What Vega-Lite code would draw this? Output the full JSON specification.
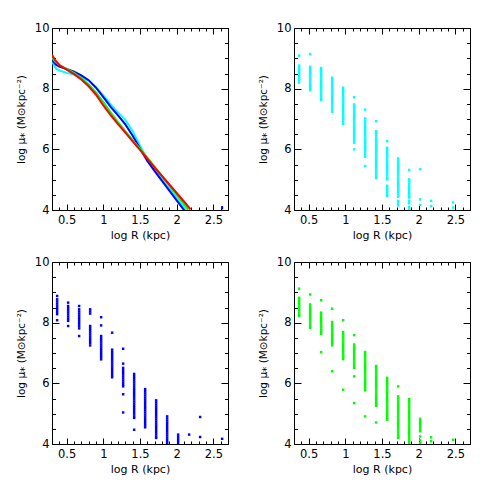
{
"$schema": "https://vega.github.io/schema/vega-lite/v6.json",
"padding": {"left": 15, "top": 21, "right": 0, "bottom": 0},
"background": "white",
"config": {
  "view": {"stroke": "black", "strokeWidth": 1},
  "font": "DejaVu Sans",
  "axis": {"grid": false, "domain": false, "tickColor": "black", "labelColor": "black", "titleColor": "black", "labelFont": "DejaVu Sans", "titleFont": "DejaVu Sans", "labelFontSize": 11.5, "titleFontSize": 11, "titleFontWeight": "normal", "tickWidth": 1, "labelFlush": false, "labelOverlap": false}
},
"datasets": {
  "lines": [
    {"s":"cyan","x":0.30,"y":8.92},{"s":"cyan","x":0.33,"y":8.75},{"s":"cyan","x":0.36,"y":8.65},{"s":"cyan","x":0.40,"y":8.60},{"s":"cyan","x":0.50,"y":8.52},{"s":"cyan","x":0.60,"y":8.47},{"s":"cyan","x":0.70,"y":8.40},{"s":"cyan","x":0.80,"y":8.26},{"s":"cyan","x":0.90,"y":8.05},{"s":"cyan","x":1.00,"y":7.78},{"s":"cyan","x":1.10,"y":7.48},{"s":"cyan","x":1.20,"y":7.22},{"s":"cyan","x":1.30,"y":6.97},{"s":"cyan","x":1.40,"y":6.60},{"s":"cyan","x":1.50,"y":6.12},{"s":"cyan","x":1.60,"y":5.66},{"s":"cyan","x":1.70,"y":5.33},{"s":"cyan","x":1.80,"y":5.02},{"s":"cyan","x":1.90,"y":4.71},{"s":"cyan","x":2.00,"y":4.40},{"s":"cyan","x":2.13,"y":4.00},
    {"s":"blue","x":0.30,"y":8.95},{"s":"blue","x":0.35,"y":8.80},{"s":"blue","x":0.40,"y":8.73},{"s":"blue","x":0.50,"y":8.65},{"s":"blue","x":0.60,"y":8.56},{"s":"blue","x":0.70,"y":8.44},{"s":"blue","x":0.80,"y":8.28},{"s":"blue","x":0.90,"y":8.03},{"s":"blue","x":1.00,"y":7.72},{"s":"blue","x":1.10,"y":7.40},{"s":"blue","x":1.20,"y":7.12},{"s":"blue","x":1.30,"y":6.82},{"s":"blue","x":1.40,"y":6.45},{"s":"blue","x":1.50,"y":6.03},{"s":"blue","x":1.60,"y":5.62},{"s":"blue","x":1.70,"y":5.28},{"s":"blue","x":1.80,"y":4.96},{"s":"blue","x":1.90,"y":4.64},{"s":"blue","x":2.00,"y":4.32},{"s":"blue","x":2.10,"y":4.00},
    {"s":"green","x":0.30,"y":9.02},{"s":"green","x":0.35,"y":8.88},{"s":"green","x":0.40,"y":8.78},{"s":"green","x":0.50,"y":8.65},{"s":"green","x":0.60,"y":8.52},{"s":"green","x":0.70,"y":8.35},{"s":"green","x":0.80,"y":8.14},{"s":"green","x":0.90,"y":7.88},{"s":"green","x":1.00,"y":7.56},{"s":"green","x":1.10,"y":7.22},{"s":"green","x":1.20,"y":6.90},{"s":"green","x":1.30,"y":6.60},{"s":"green","x":1.40,"y":6.30},{"s":"green","x":1.50,"y":6.02},{"s":"green","x":1.60,"y":5.73},{"s":"green","x":1.70,"y":5.43},{"s":"green","x":1.80,"y":5.12},{"s":"green","x":1.90,"y":4.81},{"s":"green","x":2.00,"y":4.50},{"s":"green","x":2.10,"y":4.19},{"s":"green","x":2.16,"y":4.01},
    {"s":"red","x":0.30,"y":9.12},{"s":"red","x":0.35,"y":8.92},{"s":"red","x":0.40,"y":8.78},{"s":"red","x":0.45,"y":8.70},{"s":"red","x":0.50,"y":8.63},{"s":"red","x":0.60,"y":8.48},{"s":"red","x":0.70,"y":8.30},{"s":"red","x":0.80,"y":8.08},{"s":"red","x":0.90,"y":7.80},{"s":"red","x":1.00,"y":7.45},{"s":"red","x":1.10,"y":7.13},{"s":"red","x":1.20,"y":6.83},{"s":"red","x":1.30,"y":6.55},{"s":"red","x":1.40,"y":6.26},{"s":"red","x":1.50,"y":5.98},{"s":"red","x":1.60,"y":5.69},{"s":"red","x":1.70,"y":5.40},{"s":"red","x":1.80,"y":5.12},{"s":"red","x":1.90,"y":4.84},{"s":"red","x":2.00,"y":4.56},{"s":"red","x":2.10,"y":4.28},{"s":"red","x":2.19,"y":4.02},
    {"s":"blue2","x":2.62,"y":4.02},{"s":"blue2","x":2.62,"y":4.13}
  ],
  "cyan": [
    {"x":0.37,"y":9.09},{"x":0.37,"y":8.76},{"x":0.37,"y":8.69},{"x":0.37,"y":8.62},{"x":0.37,"y":8.55},{"x":0.37,"y":8.48},{"x":0.37,"y":8.41},{"x":0.37,"y":8.34},{"x":0.37,"y":8.27},{"x":0.37,"y":8.20},
    {"x":0.52,"y":9.14},{"x":0.52,"y":8.72},{"x":0.52,"y":8.65},{"x":0.52,"y":8.58},{"x":0.52,"y":8.51},{"x":0.52,"y":8.44},{"x":0.52,"y":8.37},{"x":0.52,"y":8.30},{"x":0.52,"y":8.23},{"x":0.52,"y":8.16},{"x":0.52,"y":8.09},{"x":0.52,"y":8.02},{"x":0.52,"y":7.95},
    {"x":0.67,"y":8.68},{"x":0.67,"y":8.61},{"x":0.67,"y":8.54},{"x":0.67,"y":8.47},{"x":0.67,"y":8.40},{"x":0.67,"y":8.33},{"x":0.67,"y":8.26},{"x":0.67,"y":8.19},{"x":0.67,"y":8.12},{"x":0.67,"y":8.05},{"x":0.67,"y":7.98},{"x":0.67,"y":7.91},{"x":0.67,"y":7.84},{"x":0.67,"y":7.77},{"x":0.67,"y":7.70},{"x":0.67,"y":7.63},
    {"x":0.82,"y":8.36},{"x":0.82,"y":8.29},{"x":0.82,"y":8.22},{"x":0.82,"y":8.15},{"x":0.82,"y":8.08},{"x":0.82,"y":8.01},{"x":0.82,"y":7.94},{"x":0.82,"y":7.87},{"x":0.82,"y":7.80},{"x":0.82,"y":7.73},{"x":0.82,"y":7.66},{"x":0.82,"y":7.59},{"x":0.82,"y":7.52},{"x":0.82,"y":7.45},{"x":0.82,"y":7.38},{"x":0.82,"y":7.31},{"x":0.82,"y":7.24},
    {"x":0.97,"y":8.03},{"x":0.97,"y":7.96},{"x":0.97,"y":7.89},{"x":0.97,"y":7.82},{"x":0.97,"y":7.75},{"x":0.97,"y":7.68},{"x":0.97,"y":7.61},{"x":0.97,"y":7.54},{"x":0.97,"y":7.47},{"x":0.97,"y":7.40},{"x":0.97,"y":7.33},{"x":0.97,"y":7.26},{"x":0.97,"y":7.19},{"x":0.97,"y":7.12},{"x":0.97,"y":7.05},{"x":0.97,"y":6.98},{"x":0.97,"y":6.91},{"x":0.97,"y":6.84},
    {"x":1.12,"y":7.72},{"x":1.12,"y":7.48},{"x":1.12,"y":7.41},{"x":1.12,"y":7.34},{"x":1.12,"y":7.27},{"x":1.12,"y":7.20},{"x":1.12,"y":7.13},{"x":1.12,"y":7.06},{"x":1.12,"y":6.99},{"x":1.12,"y":6.92},{"x":1.12,"y":6.85},{"x":1.12,"y":6.78},{"x":1.12,"y":6.71},{"x":1.12,"y":6.64},{"x":1.12,"y":6.57},{"x":1.12,"y":6.50},{"x":1.12,"y":6.43},{"x":1.12,"y":6.36},{"x":1.12,"y":6.29},{"x":1.12,"y":6.22},{"x":1.12,"y":6.00},
    {"x":1.27,"y":7.31},{"x":1.27,"y":7.02},{"x":1.27,"y":6.95},{"x":1.27,"y":6.88},{"x":1.27,"y":6.81},{"x":1.27,"y":6.74},{"x":1.27,"y":6.67},{"x":1.27,"y":6.60},{"x":1.27,"y":6.53},{"x":1.27,"y":6.46},{"x":1.27,"y":6.39},{"x":1.27,"y":6.32},{"x":1.27,"y":6.25},{"x":1.27,"y":6.18},{"x":1.27,"y":6.11},{"x":1.27,"y":6.04},{"x":1.27,"y":5.97},{"x":1.27,"y":5.90},{"x":1.27,"y":5.83},{"x":1.27,"y":5.76},{"x":1.27,"y":5.45},
    {"x":1.42,"y":6.93},{"x":1.42,"y":6.60},{"x":1.42,"y":6.53},{"x":1.42,"y":6.46},{"x":1.42,"y":6.39},{"x":1.42,"y":6.32},{"x":1.42,"y":6.25},{"x":1.42,"y":6.18},{"x":1.42,"y":6.11},{"x":1.42,"y":6.04},{"x":1.42,"y":5.97},{"x":1.42,"y":5.90},{"x":1.42,"y":5.83},{"x":1.42,"y":5.76},{"x":1.42,"y":5.69},{"x":1.42,"y":5.62},{"x":1.42,"y":5.55},{"x":1.42,"y":5.48},{"x":1.42,"y":5.41},{"x":1.42,"y":5.34},{"x":1.42,"y":5.27},{"x":1.42,"y":5.20},{"x":1.42,"y":5.13},{"x":1.42,"y":5.05},
    {"x":1.57,"y":6.27},{"x":1.57,"y":6.05},{"x":1.57,"y":5.98},{"x":1.57,"y":5.91},{"x":1.57,"y":5.84},{"x":1.57,"y":5.77},{"x":1.57,"y":5.70},{"x":1.57,"y":5.63},{"x":1.57,"y":5.56},{"x":1.57,"y":5.49},{"x":1.57,"y":5.42},{"x":1.57,"y":5.35},{"x":1.57,"y":5.28},{"x":1.57,"y":5.21},{"x":1.57,"y":5.14},{"x":1.57,"y":5.07},{"x":1.57,"y":5.01},{"x":1.57,"y":4.80},{"x":1.57,"y":4.73},{"x":1.57,"y":4.66},{"x":1.57,"y":4.59},{"x":1.57,"y":4.52},{"x":1.57,"y":4.46},
    {"x":1.72,"y":5.70},{"x":1.72,"y":5.63},{"x":1.72,"y":5.56},{"x":1.72,"y":5.49},{"x":1.72,"y":5.42},{"x":1.72,"y":5.35},{"x":1.72,"y":5.28},{"x":1.72,"y":5.21},{"x":1.72,"y":5.14},{"x":1.72,"y":5.07},{"x":1.72,"y":5.00},{"x":1.72,"y":4.93},{"x":1.72,"y":4.86},{"x":1.72,"y":4.79},{"x":1.72,"y":4.72},{"x":1.72,"y":4.65},{"x":1.72,"y":4.58},{"x":1.72,"y":4.51},{"x":1.72,"y":4.44},{"x":1.72,"y":4.30},{"x":1.72,"y":4.22},{"x":1.72,"y":4.15},
    {"x":1.87,"y":5.32},{"x":1.87,"y":5.01},{"x":1.87,"y":4.94},{"x":1.87,"y":4.87},{"x":1.87,"y":4.80},{"x":1.87,"y":4.73},{"x":1.87,"y":4.66},{"x":1.87,"y":4.59},{"x":1.87,"y":4.52},{"x":1.87,"y":4.45},{"x":1.87,"y":4.41},{"x":1.87,"y":4.30},{"x":1.87,"y":4.22},{"x":1.87,"y":4.10},{"x":1.87,"y":4.02},
    {"x":2.02,"y":5.35},{"x":2.02,"y":4.35},{"x":2.02,"y":4.17},
    {"x":2.17,"y":4.30},{"x":2.17,"y":4.13},
    {"x":2.47,"y":4.25},{"x":2.47,"y":4.08}
  ],
  "blue": [
    {"x":0.37,"y":8.88},{"x":0.37,"y":8.77},{"x":0.37,"y":8.70},{"x":0.37,"y":8.63},{"x":0.37,"y":8.56},{"x":0.37,"y":8.49},{"x":0.37,"y":8.42},{"x":0.37,"y":8.35},{"x":0.37,"y":8.28},{"x":0.37,"y":8.08},
    {"x":0.52,"y":8.66},{"x":0.52,"y":8.55},{"x":0.52,"y":8.48},{"x":0.52,"y":8.41},{"x":0.52,"y":8.34},{"x":0.52,"y":8.27},{"x":0.52,"y":8.20},{"x":0.52,"y":8.13},{"x":0.52,"y":8.06},{"x":0.52,"y":7.89},
    {"x":0.67,"y":8.55},{"x":0.67,"y":8.44},{"x":0.67,"y":8.37},{"x":0.67,"y":8.30},{"x":0.67,"y":8.23},{"x":0.67,"y":8.16},{"x":0.67,"y":8.09},{"x":0.67,"y":8.02},{"x":0.67,"y":7.95},{"x":0.67,"y":7.88},{"x":0.67,"y":7.81},{"x":0.67,"y":7.56},
    {"x":0.82,"y":8.44},{"x":0.82,"y":8.37},{"x":0.82,"y":8.30},{"x":0.82,"y":7.89},{"x":0.82,"y":7.82},{"x":0.82,"y":7.75},{"x":0.82,"y":7.68},{"x":0.82,"y":7.61},{"x":0.82,"y":7.54},{"x":0.82,"y":7.47},{"x":0.82,"y":7.40},{"x":0.82,"y":7.33},{"x":0.82,"y":7.25},
    {"x":0.97,"y":8.18},{"x":0.97,"y":7.91},{"x":0.97,"y":7.56},{"x":0.97,"y":7.49},{"x":0.97,"y":7.42},{"x":0.97,"y":7.35},{"x":0.97,"y":7.28},{"x":0.97,"y":7.21},{"x":0.97,"y":7.14},{"x":0.97,"y":7.07},{"x":0.97,"y":7.00},{"x":0.97,"y":6.93},{"x":0.97,"y":6.86},{"x":0.97,"y":6.79},
    {"x":1.12,"y":7.67},{"x":1.12,"y":7.11},{"x":1.12,"y":7.04},{"x":1.12,"y":6.97},{"x":1.12,"y":6.90},{"x":1.12,"y":6.83},{"x":1.12,"y":6.76},{"x":1.12,"y":6.69},{"x":1.12,"y":6.62},{"x":1.12,"y":6.55},{"x":1.12,"y":6.48},{"x":1.12,"y":6.41},{"x":1.12,"y":6.34},{"x":1.12,"y":6.27},{"x":1.12,"y":6.20},
    {"x":1.27,"y":7.14},{"x":1.27,"y":6.65},{"x":1.27,"y":6.51},{"x":1.27,"y":6.44},{"x":1.27,"y":6.37},{"x":1.27,"y":6.30},{"x":1.27,"y":6.23},{"x":1.27,"y":6.16},{"x":1.27,"y":6.09},{"x":1.27,"y":6.02},{"x":1.27,"y":5.95},{"x":1.27,"y":5.90},{"x":1.27,"y":5.64},{"x":1.27,"y":5.04},
    {"x":1.42,"y":6.31},{"x":1.42,"y":6.24},{"x":1.42,"y":6.17},{"x":1.42,"y":6.10},{"x":1.42,"y":6.03},{"x":1.42,"y":5.96},{"x":1.42,"y":5.89},{"x":1.42,"y":5.82},{"x":1.42,"y":5.75},{"x":1.42,"y":5.68},{"x":1.42,"y":5.61},{"x":1.42,"y":5.54},{"x":1.42,"y":5.47},{"x":1.42,"y":5.40},{"x":1.42,"y":5.33},{"x":1.42,"y":5.26},{"x":1.42,"y":5.19},{"x":1.42,"y":5.12},{"x":1.42,"y":5.05},{"x":1.42,"y":4.98},{"x":1.42,"y":4.91},{"x":1.42,"y":4.86},{"x":1.42,"y":4.47},
    {"x":1.57,"y":5.81},{"x":1.57,"y":5.74},{"x":1.57,"y":5.67},{"x":1.57,"y":5.60},{"x":1.57,"y":5.53},{"x":1.57,"y":5.46},{"x":1.57,"y":5.39},{"x":1.57,"y":5.32},{"x":1.57,"y":5.25},{"x":1.57,"y":5.18},{"x":1.57,"y":5.11},{"x":1.57,"y":5.04},{"x":1.57,"y":4.97},{"x":1.57,"y":4.90},{"x":1.57,"y":4.83},{"x":1.57,"y":4.76},{"x":1.57,"y":4.69},{"x":1.57,"y":4.62},{"x":1.57,"y":4.55},
    {"x":1.72,"y":5.44},{"x":1.72,"y":5.37},{"x":1.72,"y":5.30},{"x":1.72,"y":5.23},{"x":1.72,"y":5.16},{"x":1.72,"y":5.09},{"x":1.72,"y":5.02},{"x":1.72,"y":4.95},{"x":1.72,"y":4.88},{"x":1.72,"y":4.81},{"x":1.72,"y":4.74},{"x":1.72,"y":4.67},{"x":1.72,"y":4.60},{"x":1.72,"y":4.53},{"x":1.72,"y":4.46},{"x":1.72,"y":4.39},{"x":1.72,"y":4.32},{"x":1.72,"y":4.25},{"x":1.72,"y":4.20},
    {"x":1.87,"y":4.91},{"x":1.87,"y":4.84},{"x":1.87,"y":4.77},{"x":1.87,"y":4.70},{"x":1.87,"y":4.63},{"x":1.87,"y":4.56},{"x":1.87,"y":4.49},{"x":1.87,"y":4.42},{"x":1.87,"y":4.35},{"x":1.87,"y":4.28},{"x":1.87,"y":4.21},{"x":1.87,"y":4.14},{"x":1.87,"y":4.07},{"x":1.87,"y":4.01},
    {"x":2.02,"y":4.31},{"x":2.02,"y":4.24},{"x":2.02,"y":4.17},{"x":2.02,"y":4.10},{"x":2.02,"y":4.03},
    {"x":2.17,"y":4.31},
    {"x":2.32,"y":4.89},{"x":2.32,"y":4.23},
    {"x":2.62,"y":4.17}
  ],
  "green": [
    {"x":0.37,"y":9.12},{"x":0.37,"y":8.82},{"x":0.37,"y":8.75},{"x":0.37,"y":8.68},{"x":0.37,"y":8.61},{"x":0.37,"y":8.54},{"x":0.37,"y":8.47},{"x":0.37,"y":8.40},{"x":0.37,"y":8.33},{"x":0.37,"y":8.26},{"x":0.37,"y":8.22},
    {"x":0.52,"y":8.93},{"x":0.52,"y":8.60},{"x":0.52,"y":8.53},{"x":0.52,"y":8.46},{"x":0.52,"y":8.39},{"x":0.52,"y":8.32},{"x":0.52,"y":8.25},{"x":0.52,"y":8.18},{"x":0.52,"y":8.11},{"x":0.52,"y":8.04},{"x":0.52,"y":7.97},{"x":0.52,"y":7.90},{"x":0.52,"y":7.83},
    {"x":0.67,"y":8.74},{"x":0.67,"y":8.33},{"x":0.67,"y":8.26},{"x":0.67,"y":8.19},{"x":0.67,"y":8.12},{"x":0.67,"y":8.05},{"x":0.67,"y":7.98},{"x":0.67,"y":7.91},{"x":0.67,"y":7.84},{"x":0.67,"y":7.77},{"x":0.67,"y":7.70},{"x":0.67,"y":7.63},{"x":0.67,"y":7.03},
    {"x":0.82,"y":8.46},{"x":0.82,"y":8.02},{"x":0.82,"y":7.95},{"x":0.82,"y":7.88},{"x":0.82,"y":7.81},{"x":0.82,"y":7.74},{"x":0.82,"y":7.67},{"x":0.82,"y":7.60},{"x":0.82,"y":7.53},{"x":0.82,"y":7.46},{"x":0.82,"y":7.39},{"x":0.82,"y":7.32},{"x":0.82,"y":7.25},{"x":0.82,"y":6.40},
    {"x":0.97,"y":8.08},{"x":0.97,"y":7.69},{"x":0.97,"y":7.62},{"x":0.97,"y":7.55},{"x":0.97,"y":7.48},{"x":0.97,"y":7.41},{"x":0.97,"y":7.34},{"x":0.97,"y":7.27},{"x":0.97,"y":7.20},{"x":0.97,"y":7.13},{"x":0.97,"y":7.06},{"x":0.97,"y":6.99},{"x":0.97,"y":6.92},{"x":0.97,"y":6.85},{"x":0.97,"y":6.80},{"x":0.97,"y":5.79},
    {"x":1.12,"y":7.59},{"x":1.12,"y":7.28},{"x":1.12,"y":7.21},{"x":1.12,"y":7.14},{"x":1.12,"y":7.07},{"x":1.12,"y":7.00},{"x":1.12,"y":6.93},{"x":1.12,"y":6.86},{"x":1.12,"y":6.79},{"x":1.12,"y":6.72},{"x":1.12,"y":6.65},{"x":1.12,"y":6.58},{"x":1.12,"y":6.51},{"x":1.12,"y":6.23},{"x":1.12,"y":5.35},
    {"x":1.27,"y":7.03},{"x":1.27,"y":6.96},{"x":1.27,"y":6.89},{"x":1.27,"y":6.82},{"x":1.27,"y":6.75},{"x":1.27,"y":6.68},{"x":1.27,"y":6.61},{"x":1.27,"y":6.54},{"x":1.27,"y":6.47},{"x":1.27,"y":6.40},{"x":1.27,"y":6.33},{"x":1.27,"y":6.26},{"x":1.27,"y":6.19},{"x":1.27,"y":6.12},{"x":1.27,"y":6.05},{"x":1.27,"y":5.98},{"x":1.27,"y":5.91},{"x":1.27,"y":5.84},{"x":1.27,"y":5.77},{"x":1.27,"y":4.91},
    {"x":1.42,"y":6.57},{"x":1.42,"y":6.50},{"x":1.42,"y":6.43},{"x":1.42,"y":6.36},{"x":1.42,"y":6.29},{"x":1.42,"y":6.22},{"x":1.42,"y":6.15},{"x":1.42,"y":6.08},{"x":1.42,"y":6.01},{"x":1.42,"y":5.94},{"x":1.42,"y":5.87},{"x":1.42,"y":5.80},{"x":1.42,"y":5.73},{"x":1.42,"y":5.66},{"x":1.42,"y":5.59},{"x":1.42,"y":5.52},{"x":1.42,"y":5.45},{"x":1.42,"y":5.38},{"x":1.42,"y":5.31},{"x":1.42,"y":5.26},{"x":1.42,"y":4.71},
    {"x":1.57,"y":6.18},{"x":1.57,"y":6.11},{"x":1.57,"y":6.04},{"x":1.57,"y":5.97},{"x":1.57,"y":5.90},{"x":1.57,"y":5.83},{"x":1.57,"y":5.76},{"x":1.57,"y":5.69},{"x":1.57,"y":5.62},{"x":1.57,"y":5.55},{"x":1.57,"y":5.48},{"x":1.57,"y":5.41},{"x":1.57,"y":5.34},{"x":1.57,"y":5.27},{"x":1.57,"y":5.20},{"x":1.57,"y":5.13},{"x":1.57,"y":5.06},{"x":1.57,"y":4.99},{"x":1.57,"y":4.92},{"x":1.57,"y":4.85},{"x":1.57,"y":4.80},
    {"x":1.72,"y":5.90},{"x":1.72,"y":5.57},{"x":1.72,"y":5.50},{"x":1.72,"y":5.43},{"x":1.72,"y":5.36},{"x":1.72,"y":5.29},{"x":1.72,"y":5.22},{"x":1.72,"y":5.15},{"x":1.72,"y":5.08},{"x":1.72,"y":5.01},{"x":1.72,"y":4.94},{"x":1.72,"y":4.87},{"x":1.72,"y":4.80},{"x":1.72,"y":4.73},{"x":1.72,"y":4.66},{"x":1.72,"y":4.59},{"x":1.72,"y":4.52},{"x":1.72,"y":4.45},{"x":1.72,"y":4.38},{"x":1.72,"y":4.31},{"x":1.72,"y":4.24},{"x":1.72,"y":4.20},
    {"x":1.87,"y":5.48},{"x":1.87,"y":5.41},{"x":1.87,"y":5.34},{"x":1.87,"y":5.27},{"x":1.87,"y":5.20},{"x":1.87,"y":5.13},{"x":1.87,"y":5.06},{"x":1.87,"y":4.99},{"x":1.87,"y":4.92},{"x":1.87,"y":4.85},{"x":1.87,"y":4.78},{"x":1.87,"y":4.71},{"x":1.87,"y":4.64},{"x":1.87,"y":4.57},{"x":1.87,"y":4.50},{"x":1.87,"y":4.43},{"x":1.87,"y":4.36},{"x":1.87,"y":4.29},{"x":1.87,"y":4.22},{"x":1.87,"y":4.15},{"x":1.87,"y":4.08},{"x":1.87,"y":4.01},
    {"x":2.02,"y":4.83},{"x":2.02,"y":4.76},{"x":2.02,"y":4.69},{"x":2.02,"y":4.62},{"x":2.02,"y":4.55},{"x":2.02,"y":4.48},{"x":2.02,"y":4.42},{"x":2.02,"y":4.25},{"x":2.02,"y":4.12},{"x":2.02,"y":4.03},
    {"x":2.17,"y":4.22},{"x":2.17,"y":4.09},
    {"x":2.47,"y":4.14}
  ]
},
"columns": 2,
"spacing": {"row": 52, "column": 66},
"bounds": "flush",
"concat": [
  {"width": 176, "height": 182, "data": {"name": "lines"},
   "layer": [
     {"mark": {"type": "line", "strokeWidth": 2, "clip": true},
      "encoding": {
        "x": {"field": "x", "type": "quantitative", "scale": {"domain": [0.3, 2.7], "nice": false, "zero": false},
              "axis": {"orient": "bottom", "title": "log R (kpc)", "values": [0.5,1,1.5,2,2.5], "format": "~g", "ticks": false, "labelPadding": 4, "titlePadding": 4}},
        "y": {"field": "y", "type": "quantitative", "scale": {"domain": [4, 10], "nice": false, "zero": false},
              "axis": {"orient": "left", "title": "log μ⁎ (M⊙kpc⁻²)", "titleFontSize": 10.5, "values": [4,6,8,10], "format": "d", "ticks": false, "labelPadding": 3, "titlePadding": 8}},
        "color": {"field": "s", "type": "nominal", "scale": {"domain": ["cyan","blue","green","red","blue2"], "range": ["#00ffff","#0000ff","#00ff00","#ff0000","#0000ff"]}, "legend": null}
      }},
     {"mark": {"type": "point", "opacity": 0},
      "encoding": {
        "x": {"field": "x", "type": "quantitative", "axis": {"orient": "top", "offset": -182, "title": null, "labels": false, "values": [0.5,1,1.5,2,2.5], "tickSize": 6}},
        "y": {"field": "y", "type": "quantitative", "axis": {"orient": "right", "offset": -176, "title": null, "labels": false, "values": [4,6,8,10], "tickSize": 7}}
      }},
     {"mark": {"type": "point", "opacity": 0},
      "encoding": {
        "x": {"field": "x", "type": "quantitative", "axis": {"orient": "top", "offset": -182, "title": null, "labels": false, "values": [0.3,0.4,0.6,0.7,0.8,0.9,1.1,1.2,1.3,1.4,1.6,1.7,1.8,1.9,2.1,2.2,2.3,2.4,2.6,2.7], "tickSize": 3}},
        "y": {"field": "y", "type": "quantitative", "axis": {"orient": "right", "offset": -176, "title": null, "labels": false, "values": [4.5,5,5.5,6.5,7,7.5,8.5,9,9.5], "tickSize": 3.5}}
      }},
     {"mark": {"type": "point", "opacity": 0},
      "encoding": {
        "x": {"field": "x", "type": "quantitative", "axis": {"orient": "bottom", "offset": -182, "title": null, "labels": false, "values": [0.5,1,1.5,2,2.5], "tickSize": 6}},
        "y": {"field": "y", "type": "quantitative", "axis": {"orient": "left", "offset": -176, "title": null, "labels": false, "values": [4,6,8,10], "tickSize": 7}}
      }},
     {"mark": {"type": "point", "opacity": 0},
      "encoding": {
        "x": {"field": "x", "type": "quantitative", "axis": {"orient": "bottom", "offset": -182, "title": null, "labels": false, "values": [0.3,0.4,0.6,0.7,0.8,0.9,1.1,1.2,1.3,1.4,1.6,1.7,1.8,1.9,2.1,2.2,2.3,2.4,2.6,2.7], "tickSize": 3}},
        "y": {"field": "y", "type": "quantitative", "axis": {"orient": "left", "offset": -176, "title": null, "labels": false, "values": [4.5,5,5.5,6.5,7,7.5,8.5,9,9.5], "tickSize": 3.5}}
      }}
   ],
   "resolve": {"axis": {"x": "independent", "y": "independent"}}
  },
  {"width": 176, "height": 182, "data": {"name": "cyan"},
   "layer": [
     {"mark": {"type": "square", "size": 6, "color": "#00ffff", "opacity": 1, "clip": true},
      "encoding": {
        "x": {"field": "x", "type": "quantitative", "scale": {"domain": [0.3, 2.7], "nice": false, "zero": false},
              "axis": {"orient": "bottom", "title": "log R (kpc)", "values": [0.5,1,1.5,2,2.5], "format": "~g", "ticks": false, "labelPadding": 4, "titlePadding": 4}},
        "y": {"field": "y", "type": "quantitative", "scale": {"domain": [4, 10], "nice": false, "zero": false},
              "axis": {"orient": "left", "title": "log μ⁎ (M⊙kpc⁻²)", "titleFontSize": 10.5, "values": [4,6,8,10], "format": "d", "ticks": false, "labelPadding": 3, "titlePadding": 8}}
      }},
     {"mark": {"type": "point", "opacity": 0},
      "encoding": {
        "x": {"field": "x", "type": "quantitative", "axis": {"orient": "top", "offset": -182, "title": null, "labels": false, "values": [0.5,1,1.5,2,2.5], "tickSize": 6}},
        "y": {"field": "y", "type": "quantitative", "axis": {"orient": "right", "offset": -176, "title": null, "labels": false, "values": [4,6,8,10], "tickSize": 7}}
      }},
     {"mark": {"type": "point", "opacity": 0},
      "encoding": {
        "x": {"field": "x", "type": "quantitative", "axis": {"orient": "top", "offset": -182, "title": null, "labels": false, "values": [0.3,0.4,0.6,0.7,0.8,0.9,1.1,1.2,1.3,1.4,1.6,1.7,1.8,1.9,2.1,2.2,2.3,2.4,2.6,2.7], "tickSize": 3}},
        "y": {"field": "y", "type": "quantitative", "axis": {"orient": "right", "offset": -176, "title": null, "labels": false, "values": [4.5,5,5.5,6.5,7,7.5,8.5,9,9.5], "tickSize": 3.5}}
      }},
     {"mark": {"type": "point", "opacity": 0},
      "encoding": {
        "x": {"field": "x", "type": "quantitative", "axis": {"orient": "bottom", "offset": -182, "title": null, "labels": false, "values": [0.5,1,1.5,2,2.5], "tickSize": 6}},
        "y": {"field": "y", "type": "quantitative", "axis": {"orient": "left", "offset": -176, "title": null, "labels": false, "values": [4,6,8,10], "tickSize": 7}}
      }},
     {"mark": {"type": "point", "opacity": 0},
      "encoding": {
        "x": {"field": "x", "type": "quantitative", "axis": {"orient": "bottom", "offset": -182, "title": null, "labels": false, "values": [0.3,0.4,0.6,0.7,0.8,0.9,1.1,1.2,1.3,1.4,1.6,1.7,1.8,1.9,2.1,2.2,2.3,2.4,2.6,2.7], "tickSize": 3}},
        "y": {"field": "y", "type": "quantitative", "axis": {"orient": "left", "offset": -176, "title": null, "labels": false, "values": [4.5,5,5.5,6.5,7,7.5,8.5,9,9.5], "tickSize": 3.5}}
      }}
   ],
   "resolve": {"axis": {"x": "independent", "y": "independent"}}
  },
  {"width": 176, "height": 182, "data": {"name": "blue"},
   "layer": [
     {"mark": {"type": "square", "size": 6, "color": "#0000ff", "opacity": 1, "clip": true},
      "encoding": {
        "x": {"field": "x", "type": "quantitative", "scale": {"domain": [0.3, 2.7], "nice": false, "zero": false},
              "axis": {"orient": "bottom", "title": "log R (kpc)", "values": [0.5,1,1.5,2,2.5], "format": "~g", "ticks": false, "labelPadding": 4, "titlePadding": 4}},
        "y": {"field": "y", "type": "quantitative", "scale": {"domain": [4, 10], "nice": false, "zero": false},
              "axis": {"orient": "left", "title": "log μ⁎ (M⊙kpc⁻²)", "titleFontSize": 10.5, "values": [4,6,8,10], "format": "d", "ticks": false, "labelPadding": 3, "titlePadding": 8}}
      }},
     {"mark": {"type": "point", "opacity": 0},
      "encoding": {
        "x": {"field": "x", "type": "quantitative", "axis": {"orient": "top", "offset": -182, "title": null, "labels": false, "values": [0.5,1,1.5,2,2.5], "tickSize": 6}},
        "y": {"field": "y", "type": "quantitative", "axis": {"orient": "right", "offset": -176, "title": null, "labels": false, "values": [4,6,8,10], "tickSize": 7}}
      }},
     {"mark": {"type": "point", "opacity": 0},
      "encoding": {
        "x": {"field": "x", "type": "quantitative", "axis": {"orient": "top", "offset": -182, "title": null, "labels": false, "values": [0.3,0.4,0.6,0.7,0.8,0.9,1.1,1.2,1.3,1.4,1.6,1.7,1.8,1.9,2.1,2.2,2.3,2.4,2.6,2.7], "tickSize": 3}},
        "y": {"field": "y", "type": "quantitative", "axis": {"orient": "right", "offset": -176, "title": null, "labels": false, "values": [4.5,5,5.5,6.5,7,7.5,8.5,9,9.5], "tickSize": 3.5}}
      }},
     {"mark": {"type": "point", "opacity": 0},
      "encoding": {
        "x": {"field": "x", "type": "quantitative", "axis": {"orient": "bottom", "offset": -182, "title": null, "labels": false, "values": [0.5,1,1.5,2,2.5], "tickSize": 6}},
        "y": {"field": "y", "type": "quantitative", "axis": {"orient": "left", "offset": -176, "title": null, "labels": false, "values": [4,6,8,10], "tickSize": 7}}
      }},
     {"mark": {"type": "point", "opacity": 0},
      "encoding": {
        "x": {"field": "x", "type": "quantitative", "axis": {"orient": "bottom", "offset": -182, "title": null, "labels": false, "values": [0.3,0.4,0.6,0.7,0.8,0.9,1.1,1.2,1.3,1.4,1.6,1.7,1.8,1.9,2.1,2.2,2.3,2.4,2.6,2.7], "tickSize": 3}},
        "y": {"field": "y", "type": "quantitative", "axis": {"orient": "left", "offset": -176, "title": null, "labels": false, "values": [4.5,5,5.5,6.5,7,7.5,8.5,9,9.5], "tickSize": 3.5}}
      }}
   ],
   "resolve": {"axis": {"x": "independent", "y": "independent"}}
  },
  {"width": 176, "height": 182, "data": {"name": "green"},
   "layer": [
     {"mark": {"type": "square", "size": 6, "color": "#00ff00", "opacity": 1, "clip": true},
      "encoding": {
        "x": {"field": "x", "type": "quantitative", "scale": {"domain": [0.3, 2.7], "nice": false, "zero": false},
              "axis": {"orient": "bottom", "title": "log R (kpc)", "values": [0.5,1,1.5,2,2.5], "format": "~g", "ticks": false, "labelPadding": 4, "titlePadding": 4}},
        "y": {"field": "y", "type": "quantitative", "scale": {"domain": [4, 10], "nice": false, "zero": false},
              "axis": {"orient": "left", "title": "log μ⁎ (M⊙kpc⁻²)", "titleFontSize": 10.5, "values": [4,6,8,10], "format": "d", "ticks": false, "labelPadding": 3, "titlePadding": 8}}
      }},
     {"mark": {"type": "point", "opacity": 0},
      "encoding": {
        "x": {"field": "x", "type": "quantitative", "axis": {"orient": "top", "offset": -182, "title": null, "labels": false, "values": [0.5,1,1.5,2,2.5], "tickSize": 6}},
        "y": {"field": "y", "type": "quantitative", "axis": {"orient": "right", "offset": -176, "title": null, "labels": false, "values": [4,6,8,10], "tickSize": 7}}
      }},
     {"mark": {"type": "point", "opacity": 0},
      "encoding": {
        "x": {"field": "x", "type": "quantitative", "axis": {"orient": "top", "offset": -182, "title": null, "labels": false, "values": [0.3,0.4,0.6,0.7,0.8,0.9,1.1,1.2,1.3,1.4,1.6,1.7,1.8,1.9,2.1,2.2,2.3,2.4,2.6,2.7], "tickSize": 3}},
        "y": {"field": "y", "type": "quantitative", "axis": {"orient": "right", "offset": -176, "title": null, "labels": false, "values": [4.5,5,5.5,6.5,7,7.5,8.5,9,9.5], "tickSize": 3.5}}
      }},
     {"mark": {"type": "point", "opacity": 0},
      "encoding": {
        "x": {"field": "x", "type": "quantitative", "axis": {"orient": "bottom", "offset": -182, "title": null, "labels": false, "values": [0.5,1,1.5,2,2.5], "tickSize": 6}},
        "y": {"field": "y", "type": "quantitative", "axis": {"orient": "left", "offset": -176, "title": null, "labels": false, "values": [4,6,8,10], "tickSize": 7}}
      }},
     {"mark": {"type": "point", "opacity": 0},
      "encoding": {
        "x": {"field": "x", "type": "quantitative", "axis": {"orient": "bottom", "offset": -182, "title": null, "labels": false, "values": [0.3,0.4,0.6,0.7,0.8,0.9,1.1,1.2,1.3,1.4,1.6,1.7,1.8,1.9,2.1,2.2,2.3,2.4,2.6,2.7], "tickSize": 3}},
        "y": {"field": "y", "type": "quantitative", "axis": {"orient": "left", "offset": -176, "title": null, "labels": false, "values": [4.5,5,5.5,6.5,7,7.5,8.5,9,9.5], "tickSize": 3.5}}
      }}
   ],
   "resolve": {"axis": {"x": "independent", "y": "independent"}}
  }
]
}
